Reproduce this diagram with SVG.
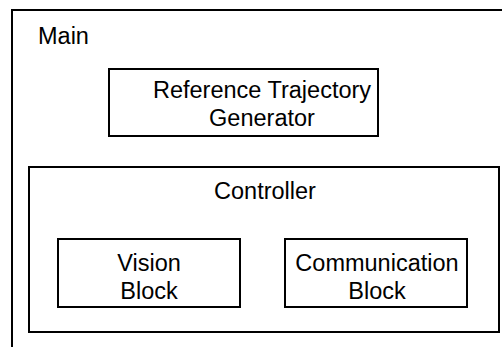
<svg xmlns="http://www.w3.org/2000/svg" width="502" height="347" viewBox="0 0 502 347">
  <style>
    .box { fill: #ffffff; stroke: #000000; stroke-width: 2; }
    .label { font-family: "Liberation Sans", Arial, sans-serif; font-size: 23.5px; fill: #000000; }
    .mid { text-anchor: middle; }
  </style>
  <rect x="0" y="0" width="502" height="347" fill="#ffffff"/>

  <!-- Main container (runs past the right and bottom edges) -->
  <g id="main">
    <rect class="box" x="12" y="10" width="500" height="350"/>
    <text class="label" x="38" y="44">Main</text>
  </g>

  <g id="reference-trajectory-generator">
    <rect class="box" x="109" y="69" width="269" height="67"/>
    <text class="label mid" x="262" y="98">Reference Trajectory</text>
    <text class="label mid" x="262" y="126">Generator</text>
  </g>

  <g id="controller">
    <rect class="box" x="29" y="167" width="470" height="165"/>
    <text class="label mid" x="265" y="199">Controller</text>
  </g>

  <g id="vision-block">
    <rect class="box" x="58" y="239" width="182" height="68"/>
    <text class="label mid" x="149" y="271">Vision</text>
    <text class="label mid" x="149" y="299">Block</text>
  </g>

  <g id="communication-block">
    <rect class="box" x="285" y="239" width="182" height="68"/>
    <text class="label mid" x="377" y="271">Communication</text>
    <text class="label mid" x="377" y="299">Block</text>
  </g>

  <g id="connectors"></g>
</svg>
